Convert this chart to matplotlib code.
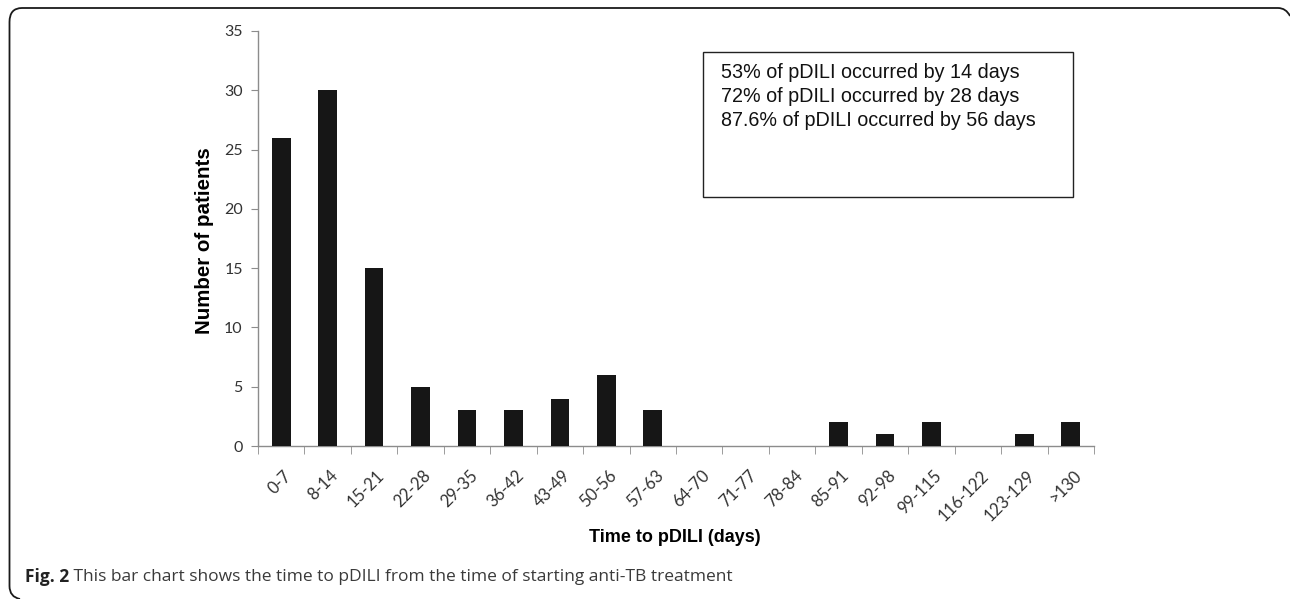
import matplotlib.pyplot as plt
import matplotlib.transforms as mtransforms
from matplotlib.patches import Rectangle, PathPatch
from matplotlib.path import Path

# time bins (days) and number of patients in each
bins = ["0-7", "8-14", "15-21", "22-28", "29-35", "36-42", "43-49", "50-56",
        "57-63", "64-70", "71-77", "78-84", "85-91", "92-98", "99-115",
        "116-122", "123-129", ">130"]
patients = [26, 30, 15, 5, 3, 3, 4, 6, 3, 0, 0, 0, 2, 1, 2, 0, 1, 2]

box_lines = ["53% of pDILI occurred by 14 days",
             "72% of pDILI occurred by 28 days",
             "87.6% of pDILI occurred by 56 days"]

W, H = 1290, 599
fig = plt.figure(figsize=(W / 100, H / 100), dpi=100)
ax = fig.add_axes([258 / W, 1 - 446 / H, (1094 - 258) / W, (446 - 31) / H])

axis_grey = "#8c8c8c"
tick_col = "#333333"

x = list(range(len(bins)))
ax.bar(x, patients, width=0.4, color="#161616", linewidth=0, zorder=3)

ax.set_xlim(-0.5, len(bins) - 0.5)
ax.set_ylim(0, 35)
ax.set_yticks(range(0, 36, 5))

for s in ["top", "right"]:
    ax.spines[s].set_visible(False)
for s in ["left", "bottom"]:
    ax.spines[s].set_color(axis_grey)
    ax.spines[s].set_linewidth(1.0)

# ticks at the bin boundaries, labels at bin centres
ax.set_xticks([i - 0.5 for i in range(len(bins) + 1)], minor=True)
ax.set_xticks(x)
ax.set_xticklabels(bins, rotation=45, ha="right", va="center",
                   rotation_mode="anchor", fontsize=12, family="Lato",
                   color=tick_col)
ax.tick_params(axis="x", which="major", length=0, pad=19.5)
ax.tick_params(axis="x", which="minor", length=6, color=axis_grey, direction="out")
ax.tick_params(axis="y", length=5, color=axis_grey, labelsize=11.5,
               labelcolor=tick_col, pad=6)
for lab in ax.get_yticklabels():
    lab.set_family("Lato")

shift = mtransforms.ScaledTranslation(0.08, 0, fig.dpi_scale_trans)
for lab in ax.get_xticklabels():
    lab.set_transform(lab.get_transform() + shift)

fig.text(675 / W, 1 - 538 / H, "Time to pDILI (days)", ha="center", va="center",
         fontsize=13, fontweight="bold", family="Liberation Sans")
fig.text(205 / W, 1 - 241 / H, "Number of patients", ha="center", va="center",
         rotation=90, fontsize=14.8, fontweight="bold", family="Liberation Sans")

# text box
fig.patches.append(Rectangle((703 / W, 1 - 197 / H), (1073 - 703) / W, (197 - 52) / H,
                             transform=fig.transFigure, fill=False,
                             edgecolor="#222222", linewidth=1.0))
for i, line in enumerate(box_lines):
    fig.text(721 / W, 1 - (72 + 24.5 * i) / H, line, ha="left", va="center",
             fontsize=14.2, family="Liberation Sans", color="#111111")

# caption
cap = fig.text(25 / W, 1 - 577 / H, "Fig. 2", ha="left", va="center",
               fontsize=12.5, fontweight="bold", family="Open Sans", color="#222222")
ax.annotate(" This bar chart shows the time to pDILI from the time of starting anti-TB treatment",
            xy=(1, 0.5), xycoords=cap, ha="left", va="center",
            fontsize=12.5, family="Open Sans", color="#3a3a3a", annotation_clip=False)

# rounded outer frame (top and left edges)
def fx(px):
    return px / W

def fy(py):
    return 1 - py / H

verts = [(fx(1290), fy(16)), (fx(1286), fy(8)), (fx(1278), fy(8)),
         (fx(22), fy(8)),
         (fx(9.5), fy(8)), (fx(9.5), fy(22)),
         (fx(9.5), fy(586)),
         (fx(9.5), fy(597)), (fx(20), fy(599))]
codes = [Path.MOVETO, Path.CURVE3, Path.CURVE3,
         Path.LINETO,
         Path.CURVE3, Path.CURVE3,
         Path.LINETO,
         Path.CURVE3, Path.CURVE3]
fig.patches.append(PathPatch(Path(verts, codes), transform=fig.transFigure,
                             fill=False, edgecolor="#1a1a1a", linewidth=1.3))

fig.savefig("out.png", dpi=100)
